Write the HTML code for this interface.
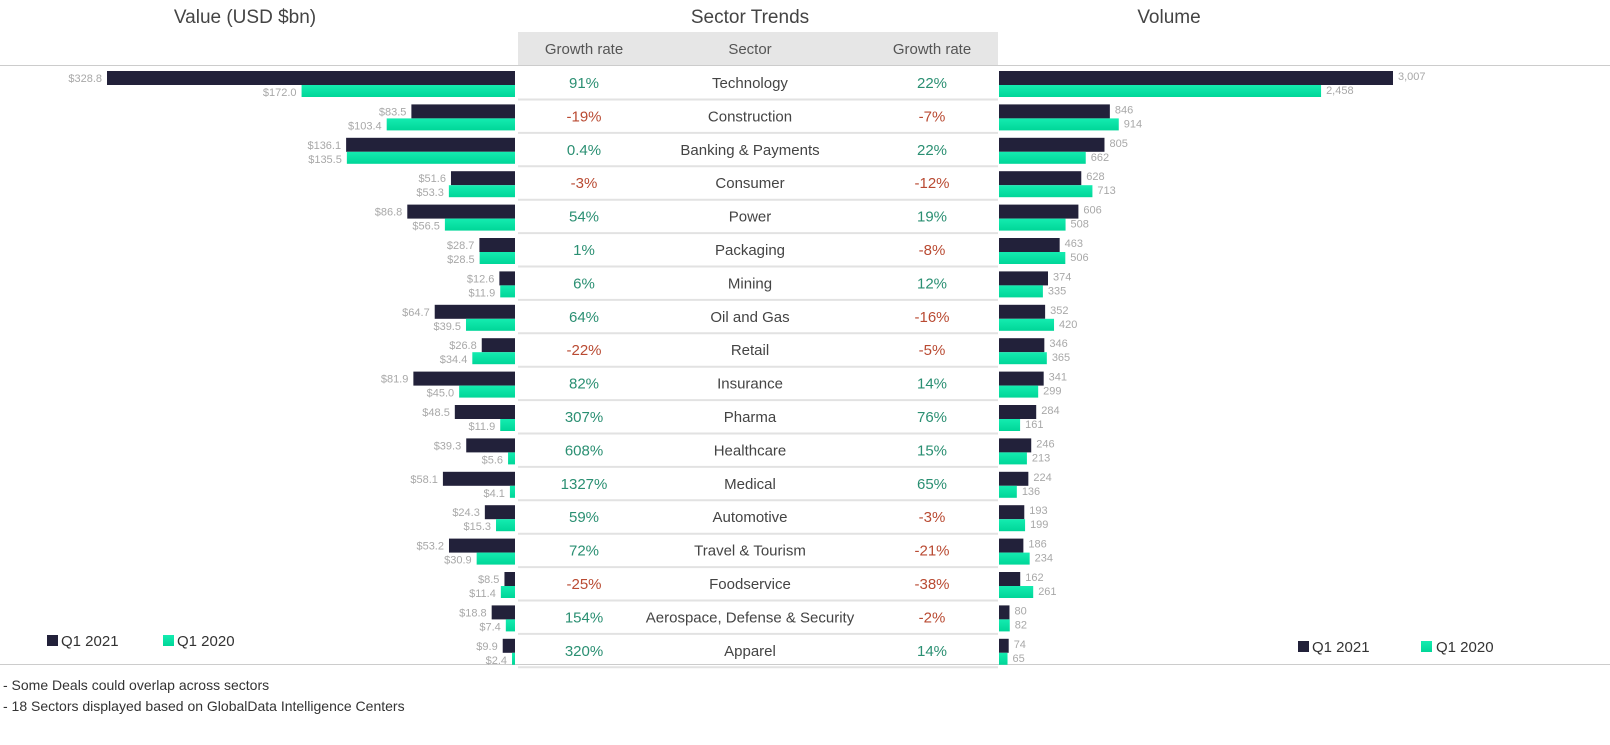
<!DOCTYPE html>
<html><head><meta charset="utf-8"><style>
body{margin:0;width:1610px;height:740px;background:#fff;overflow:hidden;font-family:"Liberation Sans",sans-serif;}
svg text{font-family:"Liberation Sans",sans-serif;}
</style></head><body>
<svg id="chart" width="1610" height="740" xmlns="http://www.w3.org/2000/svg">
<defs><linearGradient id="gg" x1="0" y1="0" x2="0" y2="1"><stop offset="0" stop-color="#14ecb0"/><stop offset="1" stop-color="#00d698"/></linearGradient></defs>
<text x="245" y="23" font-size="19" fill="#444" text-anchor="middle">Value (USD $bn)</text>
<text x="750" y="23" font-size="19" fill="#444" text-anchor="middle">Sector Trends</text>
<text x="1169" y="23" font-size="19" fill="#444" text-anchor="middle">Volume</text>
<rect x="518" y="32" width="480" height="33" fill="#e6e6e6"/>
<text x="584" y="54" font-size="15" fill="#555" text-anchor="middle">Growth rate</text>
<text x="750" y="54" font-size="15" fill="#555" text-anchor="middle">Sector</text>
<text x="932" y="54" font-size="15" fill="#555" text-anchor="middle">Growth rate</text>
<line x1="0" y1="65.5" x2="1610" y2="65.5" stroke="#ccc"/>
<line x1="0" y1="664.5" x2="1610" y2="664.5" stroke="#ccc"/>
<g id="rows"></g>
<g>
<rect x="47" y="635" width="11" height="11" fill="#22213a"/><text x="61" y="646" font-size="15" fill="#333">Q1 2021</text>
<rect x="163" y="635" width="11" height="11" fill="url(#gg)"/><text x="177" y="646" font-size="15" fill="#333">Q1 2020</text>
</g>
<g>
<rect x="1298" y="641" width="11" height="11" fill="#22213a"/><text x="1312" y="652" font-size="15" fill="#333">Q1 2021</text>
<rect x="1421" y="641" width="11" height="11" fill="url(#gg)"/><text x="1436" y="652" font-size="15" fill="#333">Q1 2020</text>
</g>
<text x="3" y="690" font-size="14" fill="#333">- Some Deals could overlap across sectors</text>
<text x="3" y="711" font-size="14" fill="#333">- 18 Sectors displayed based on GlobalData Intelligence Centers</text>
</svg>
<script>
const sectors=["Technology","Construction","Banking & Payments","Consumer","Power","Packaging","Mining","Oil and Gas","Retail","Insurance","Pharma","Healthcare","Medical","Automotive","Travel & Tourism","Foodservice","Aerospace, Defense & Security","Apparel"];
const value2021=[328.8,83.5,136.1,51.6,86.8,28.7,12.6,64.7,26.8,81.9,48.5,39.3,58.1,24.3,53.2,8.5,18.8,9.9];
const value2020=[172.0,103.4,135.5,53.3,56.5,28.5,11.9,39.5,34.4,45.0,11.9,5.6,4.1,15.3,30.9,11.4,7.4,2.4];
const valueGrowth=["91%","-19%","0.4%","-3%","54%","1%","6%","64%","-22%","82%","307%","608%","1327%","59%","72%","-25%","154%","320%"];
const volume2021=[3007,846,805,628,606,463,374,352,346,341,284,246,224,193,186,162,80,74];
const volume2020=[2458,914,662,713,508,506,335,420,365,299,161,213,136,199,234,261,82,65];
const volumeGrowth=["22%","-7%","22%","-12%","19%","-8%","12%","-16%","-5%","14%","76%","15%","65%","-3%","-21%","-38%","-2%","14%"];
const NS="http://www.w3.org/2000/svg";
const g=document.getElementById('rows');
const xVal=v=>v*408/328.8, xVol=v=>v*394/3007, rowY=i=>83+i*33.4;
function mk(tag,a,parent){const e=document.createElementNS(NS,tag);for(const k in a)e.setAttribute(k,a[k]);(parent||g).appendChild(e);return e;}
const fmt=n=>n.toLocaleString('en-US');
sectors.forEach((s,i)=>{
 const c=rowY(i);
 const row=mk('g',{});
 
 
 const sep=mk('line',{x1:518,x2:998,y1:c+16.5,y2:c+16.5,stroke:'#e2e2e2','stroke-width':2},row);
 
 
 let w=xVal(value2021[i]);
 let b=mk('rect',{x:515-w,y:c-12,width:w,height:14,fill:'#22213a'},row);
 
 
 let t=mk('text',{x:515-w-5,y:c-1,'font-size':11,fill:'#a8a8a8','text-anchor':'end'},row);t.textContent='$'+value2021[i].toFixed(1);
 
 
 w=xVal(value2020[i]);
 b=mk('rect',{x:515-w,y:c+2,width:w,height:12,fill:'url(#gg)'},row);
 
 
 t=mk('text',{x:515-w-5,y:c+13,'font-size':11,fill:'#a8a8a8','text-anchor':'end'},row);t.textContent='$'+value2020[i].toFixed(1);
 
 
 t=mk('text',{x:584,y:c+5,'font-size':15,fill:valueGrowth[i][0]=='-'?'#b94a32':'#2a8f72','text-anchor':'middle'},row);t.textContent=valueGrowth[i];
 
 
 t=mk('text',{x:750,y:c+5,'font-size':15,fill:'#444','text-anchor':'middle'},row);t.textContent=s;
 
 
 t=mk('text',{x:932,y:c+5,'font-size':15,fill:volumeGrowth[i][0]=='-'?'#b94a32':'#2a8f72','text-anchor':'middle'},row);t.textContent=volumeGrowth[i];
 
 
 w=xVol(volume2021[i]);
 b=mk('rect',{x:999,y:c-12,width:w,height:14,fill:'#22213a'},row);
 
 
 t=mk('text',{x:999+w+5,y:c-3,'font-size':11,fill:'#a8a8a8'},row);t.textContent=fmt(volume2021[i]);
 
 
 w=xVol(volume2020[i]);
 b=mk('rect',{x:999,y:c+2,width:w,height:12,fill:'url(#gg)'},row);
 
 
 t=mk('text',{x:999+w+5,y:c+11,'font-size':11,fill:'#a8a8a8'},row);t.textContent=fmt(volume2020[i]);
 
 
});
</script>
</body></html>
